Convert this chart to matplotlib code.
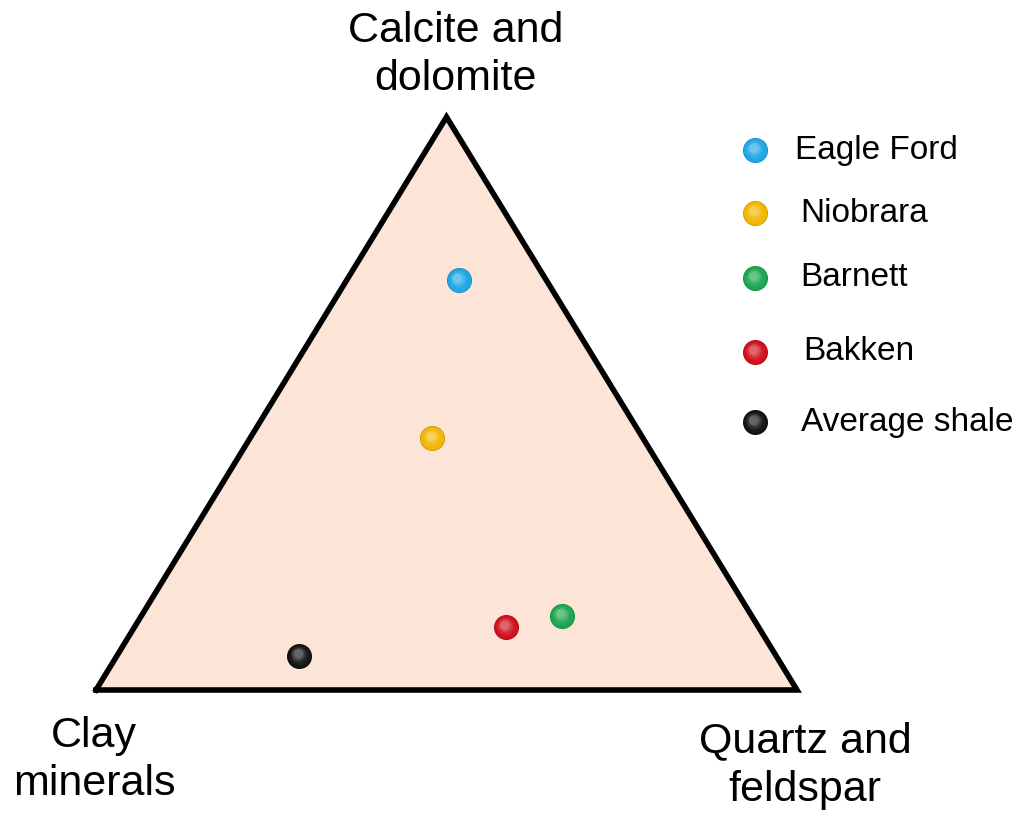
import matplotlib.pyplot as plt
import matplotlib.transforms as mtransforms
import numpy as np
from matplotlib.colors import to_rgb

plt.rcParams['font.family'] = ['Liberation Sans', 'DejaVu Sans']

# Mineral composition (fractions): clay, quartz+feldspar, carbonate
plays = ["Eagle Ford", "Niobrara", "Barnett", "Bakken", "Average shale"]
clay = [0.13, 0.30, 0.27, 0.36, 0.68]
quartz = [0.16, 0.26, 0.60, 0.53, 0.26]
carbonate = [0.715, 0.44, 0.13, 0.11, 0.06]
colors = ["#1ea6e4", "#f2b600", "#1aa64e", "#d0101c", "#121212"]

# triangle is a bit flatter than equilateral
H = 0.8174


def to_xy(q, c):
    return q + 0.5 * c, H * c


fig = plt.figure(figsize=(10.21, 8.17), dpi=100)
ax = fig.add_axes([0, 0, 1, 1])
ax.set_xlim(-96 / 701, 925 / 701)
ax.set_ylim(-127 / 701, 690 / 701)
ax.axis("off")

tri = np.array([[0, 0], [1, 0], [0.5, H], [0, 0]])
ax.fill(tri[:, 0], tri[:, 1], color="#fce5d6", zorder=1)
ax.plot(tri[:, 0], tri[:, 1], color="black", lw=4, solid_joinstyle="miter", zorder=2)


def sphere(ax, x, y, color, size=18, transform=None, z=5):
    # stacked circles fading to white toward the upper left give a shaded ball
    base = np.array(to_rgb(color))
    dark = base * 0.8
    tr = transform if transform is not None else ax.transData
    ax.scatter([x], [y], s=size ** 2, color=dark, lw=0, transform=tr, zorder=z)
    n = 8
    for k in range(n):
        f = k / (n - 1)
        d = size * (0.95 - 0.6 * f)
        col = base * (1 - 0.35 * f ** 2) + np.ones(3) * 0.35 * f ** 2
        off = mtransforms.ScaledTranslation(-1.2 * f / 72, 1.6 * f / 72, fig.dpi_scale_trans)
        ax.scatter([x], [y], s=d ** 2, color=np.clip(col, 0, 1), lw=0,
                   transform=tr + off, zorder=z + 0.1 * (k + 1))


for q, c, col in zip(quartz, carbonate, colors):
    x, y = to_xy(q, c)
    sphere(ax, x, y, col)

# corner labels
fig.text(456 / 1021, 1 - 55 / 817, "Calcite and\ndolomite", ha="center", va="center",
         fontsize=31, linespacing=1.28)
fig.text(94 / 1021, 1 - 760 / 817, "Clay\nminerals", ha="center", va="center",
         fontsize=31, linespacing=1.28)
fig.text(805 / 1021, 1 - 766 / 817, "Quartz and\nfeldspar", ha="center", va="center",
         fontsize=31, linespacing=1.28)

# legend
legend_y = [150, 213, 278, 352, 422]
legend_tx = [795, 800, 800, 803, 801]
for name, col, py, tx in zip(plays, colors, legend_y, legend_tx):
    sphere(ax, 755 / 1021, 1 - py / 817, col, transform=ax.transAxes)
    fig.text(tx / 1021, 1 - py / 817, name, ha="left", va="center", fontsize=24)

fig.savefig("out.png", dpi=100)
